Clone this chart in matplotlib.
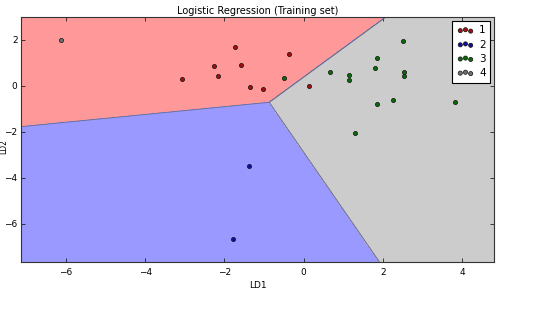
import numpy as np
import matplotlib
matplotlib.use('Agg')
import matplotlib.pyplot as plt
from matplotlib.colors import ListedColormap

# 학습 데이터 (LD1, LD2, class)
ld1_c1 = [-3.06, -2.27, -2.16, -1.72, -1.59, -1.35, -1.03, -0.37, 0.13]
ld2_c1 = [0.30, 0.84, 0.41, 1.70, 0.90, -0.04, -0.14, 1.39, 0.00]
ld1_c2 = [-1.37, -1.78]
ld2_c2 = [-3.48, -6.67]
ld1_c3 = [-0.50, 0.67, 1.14, 1.15, 1.84, 1.80, 2.50, 2.53, 2.54, 2.26, 1.84, 3.81, 1.29]
ld2_c3 = [0.32, 0.58, 0.48, 0.25, 1.22, 0.78, 1.96, 0.61, 0.43, -0.61, -0.81, -0.70, -2.06]
ld1_c4 = [-6.13]
ld2_c4 = [2.00]

# 분류기 계수 (class 1, 2, 3) - 그림에서 읽은 경계
coef = [[-8.51, 6.74], [-6.90, -2.76], [0.0, 0.0]]
intercept = [-2.55, -7.99, 0.0]

class_labels = ['1', '2', '3', '4']
point_colors = ['#a01010', '#10109a', '#0a6a0a', '#707070']
region_colors = ['#ff9999', '#9999ff', '#cccccc']

xs = [ld1_c1, ld1_c2, ld1_c3, ld1_c4]
ys = [ld2_c1, ld2_c2, ld2_c3, ld2_c4]

all_x = np.concatenate(xs)
all_y = np.concatenate(ys)

# 그리드
X1, X2 = np.meshgrid(np.arange(all_x.min() - 1, all_x.max() + 1, 0.01),
                     np.arange(all_y.min() - 1, all_y.max() + 1, 0.01))
W = np.array(coef)
b = np.array(intercept)
scores = W[:, 0][:, None, None] * X1 + W[:, 1][:, None, None] * X2 + b[:, None, None]
pred = scores.argmax(axis=0)

fig = plt.figure(figsize=(5.33, 3.10), dpi=100)
ax = fig.add_axes([0.0394, 0.155, 0.8874, 0.79])

ax.contourf(X1, X2, pred, levels=[-0.5, 0.5, 1.5, 2.5], cmap=ListedColormap(region_colors))
ax.contour(X1, X2, pred, levels=[0.5, 1.5], colors='#6a6a90', linewidths=0.6)
ax.set_xlim(X1.min(), X1.max())
ax.set_ylim(X2.min(), X2.max())

for i in range(4):
    ax.scatter(xs[i], ys[i], c=point_colors[i], s=9, edgecolors='#111111',
               linewidths=0.5, label=class_labels[i], zorder=3)

ax.set_title('Logistic Regression (Training set)', fontsize=7, pad=2)
ax.set_xlabel('LD1', fontsize=6.5, labelpad=3)
ax.set_ylabel('LD2', fontsize=5.5)
ax.yaxis.set_label_coords(-0.026, 0.47)
ax.set_xticks([-6, -4, -2, 0, 2, 4])
ax.set_yticks([-6, -4, -2, 0, 2])
ax.tick_params(direction='in', top=True, right=True, labelsize=6.5, length=3, width=0.5, pad=4)
ax.tick_params(axis='y', pad=2.5)
for s in ax.spines.values():
    s.set_linewidth(0.8)
    s.set_color('#333333')

leg = ax.legend(loc='upper right', scatterpoints=3, fontsize=7.5, fancybox=False,
                borderpad=0.45, handletextpad=0.5, labelspacing=0.4,
                handlelength=1.6, borderaxespad=0.35, framealpha=1)
leg.get_frame().set_edgecolor('black')
leg.get_frame().set_linewidth(0.8)

plt.savefig('out.png', dpi=100)
plt.close()
